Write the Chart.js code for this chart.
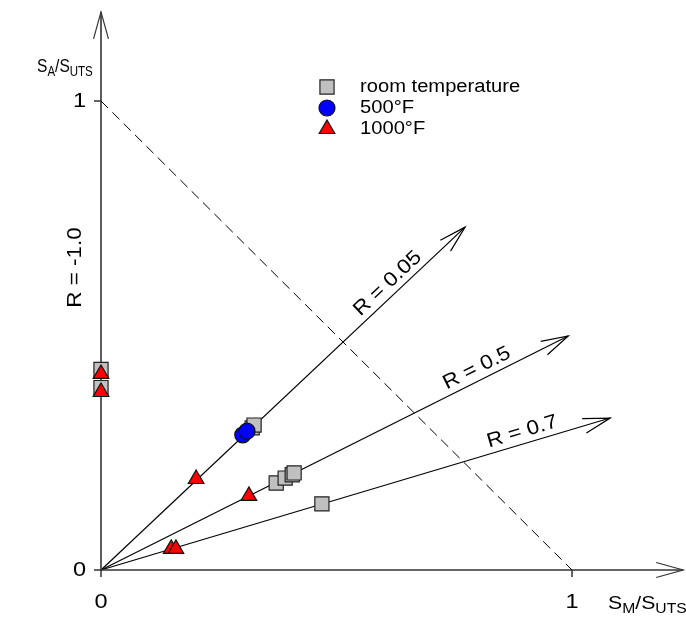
<!DOCTYPE html>
<html>
<head>
<meta charset="utf-8">
<script src="https://cdn.jsdelivr.net/npm/chart.js@4.4.1/dist/chart.umd.min.js"></script>
<style>
  html, body { margin: 0; padding: 0; background: #fff; }
  #wrap { width: 686px; height: 619px; }
</style>
</head>
<body>
<div id="wrap"><canvas id="chart" width="686" height="619"></canvas></div>
<script>
// rays (endpoint of each loading-ratio line)
const rayLabels = ['R = 0.05', 'R = 0.5', 'R = 0.7'];
const rayEndX = [0.773, 0.992, 1.081];
const rayEndY = [0.731, 0.499, 0.324];

// series
const roomX = [0, 0, 0.321, 0.325, 0.372, 0.391, 0.406, 0.410, 0.469];
const roomY = [0.4275, 0.389, 0.303, 0.309, 0.1855, 0.196, 0.203, 0.207, 0.141];
const f500X = [0.301, 0.310];
const f500Y = [0.288, 0.296];
const f1000X = [0, 0, 0.202, 0.314, 0.149, 0.159];
const f1000Y = [0.418, 0.3795, 0.194, 0.158, 0.045, 0.045];

// axis / tick labels
const xTicks = [0, 1];
const yTicks = [0, 1];
const axisEndX = 1.236;
const axisEndY = 1.19;

const pts = (xs, ys) => xs.map((x, i) => ({ x: x, y: ys[i] }));
const FONT = "'Liberation Sans', Arial, sans-serif";
const STRETCH = 1.12;

function drawText(ctx, str, x, y, size, angle, align) {
    ctx.save();
    ctx.translate(x, y);
    ctx.rotate(angle || 0);
    ctx.scale(STRETCH, 1);
    ctx.font = size + 'px ' + FONT;
    ctx.textAlign = align || 'center';
    ctx.textBaseline = 'middle';
    ctx.fillStyle = '#000';
    ctx.fillText(str, 0, 0);
    ctx.restore();
}

// text with subscripts: parts = [[text, isSub], ...]
function drawSubText(ctx, parts, x, y, size, subSize, stretch) {
    ctx.save();
    ctx.fillStyle = '#000';
    ctx.textBaseline = 'alphabetic';
    ctx.textAlign = 'left';
    let cx = x;
    parts.forEach(([t, sub]) => {
        const s = sub ? subSize : size;
        ctx.font = s + 'px ' + FONT;
        ctx.save();
        ctx.translate(cx, sub ? y + 4 : y);
        ctx.scale(stretch, 1);
        ctx.fillText(t, 0, 0);
        ctx.restore();
        cx += ctx.measureText(t).width * stretch;
    });
    ctx.restore();
}

function arrowHead(ctx, x0, y0, x1, y1) {
    const a = Math.atan2(y1 - y0, x1 - x0);
    const len = 28, spread = 0.27;
    ctx.beginPath();
    ctx.moveTo(x1 - len * Math.cos(a - spread), y1 - len * Math.sin(a - spread));
    ctx.lineTo(x1, y1);
    ctx.lineTo(x1 - len * Math.cos(a + spread), y1 - len * Math.sin(a + spread));
    ctx.stroke();
}

const decor = {
    id: 'decor',
    afterDatasetsDraw(chart) {
        const ctx = chart.ctx;
        const xs = chart.scales.x, ys = chart.scales.y;
        const ox = xs.getPixelForValue(0), oy = ys.getPixelForValue(0);

        ctx.save();
        ctx.lineWidth = 1.2;
        ctx.strokeStyle = '#000';
        // ray arrowheads + labels
        const labelT = [0.81, 0.816, 0.834];
        rayEndX.forEach((ex, i) => {
            const px = xs.getPixelForValue(ex), py = ys.getPixelForValue(rayEndY[i]);
            arrowHead(ctx, ox, oy, px, py);
            const a = Math.atan2(py - oy, px - ox);
            const t = labelT[i];
            const lx = ox + (px - ox) * t + 12 * Math.sin(a);
            const ly = oy + (py - oy) * t - 12 * Math.cos(a);
            drawText(ctx, rayLabels[i], lx, ly, 20, a, 'center');
        });

        // axis arrowheads
        ctx.strokeStyle = '#333';
        arrowHead(ctx, ox, oy, ox, ys.getPixelForValue(axisEndY));
        arrowHead(ctx, ox, oy, xs.getPixelForValue(axisEndX), oy);

        // ticks
        ctx.lineWidth = 1.5;
        ctx.beginPath();
        yTicks.forEach(v => {
            const p = ys.getPixelForValue(v);
            ctx.moveTo(ox - 7, p); ctx.lineTo(ox, p);
        });
        xTicks.forEach(v => {
            const p = xs.getPixelForValue(v);
            ctx.moveTo(p, oy); ctx.lineTo(p, oy + 7);
        });
        ctx.stroke();

        yTicks.forEach(v => drawText(ctx, String(v), ox - 15, ys.getPixelForValue(v), 21, 0, 'right'));
        xTicks.forEach(v => drawText(ctx, String(v), xs.getPixelForValue(v), oy + 32, 21, 0, 'center'));

        // axis titles
        drawSubText(ctx, [['S', false], ['A', true], ['/S', false], ['UTS', true]], 37, 72, 19, 14, 0.82);
        drawSubText(ctx, [['S', false], ['M', true], ['/S', false], ['UTS', true]], 608, 609, 19, 14, STRETCH);
        drawText(ctx, 'R = -1.0', ox - 26, ys.getPixelForValue(0.645), 20, -Math.PI / 2, 'center');

        // legend
        const lx = 327, ly = [87, 108, 129];
        const legendSets = [chart.data.datasets[0], chart.data.datasets[1], chart.data.datasets[2]];
        legendSets.forEach((ds, i) => {
            ctx.save();
            ctx.fillStyle = ds.backgroundColor;
            ctx.strokeStyle = ds.borderColor;
            ctx.lineWidth = ds.borderWidth;
            Chart.helpers.drawPoint(ctx, { pointStyle: ds.pointStyle, radius: ds.pointRadius, borderWidth: ds.borderWidth, rotation: 0 }, lx, ly[i]);
            ctx.restore();
            drawText(ctx, ds.label, 360, ly[i], 18, 0, 'left');
        });
        ctx.restore();
    }
};

const lineStyle = { showLine: true, pointRadius: 0, borderColor: '#000', borderWidth: 1.2, fill: false, order: 10 };

const datasets = [
    { label: 'room temperature', data: pts(roomX, roomY), pointStyle: 'rect', pointRadius: 10,
      backgroundColor: '#c0c0c0', borderColor: '#222', borderWidth: 1.2, order: 3 },
    { label: '500°F', data: pts(f500X, f500Y), pointStyle: 'circle', pointRadius: 8,
      backgroundColor: '#0000ff', borderColor: '#111', borderWidth: 1.2, order: 2 },
    { label: '1000°F', data: pts(f1000X, f1000Y), pointStyle: 'triangle', pointRadius: 9,
      backgroundColor: '#ff0000', borderColor: '#111', borderWidth: 1.2, order: 1 },
    Object.assign({ label: 'dashed', data: [{ x: 0, y: 1 }, { x: 1, y: 0 }] }, lineStyle, { borderDash: [10, 6], borderWidth: 1 }),
    Object.assign({ label: 'yaxis', data: [{ x: 0, y: 0 }, { x: 0, y: axisEndY }] }, lineStyle, { borderColor: '#333', borderWidth: 1.6 }),
    Object.assign({ label: 'xaxis', data: [{ x: 0, y: 0 }, { x: axisEndX, y: 0 }] }, lineStyle, { borderColor: '#333', borderWidth: 1.6 })
];
rayEndX.forEach((ex, i) => {
    datasets.push(Object.assign({ label: rayLabels[i], data: [{ x: 0, y: 0 }, { x: ex, y: rayEndY[i] }] }, lineStyle));
});

new Chart(document.getElementById('chart').getContext('2d'), {
    type: 'scatter',
    data: { datasets: datasets },
    options: {
        responsive: false,
        animation: false,
        clip: false,
        layout: { padding: 0, autoPadding: false },
        scales: {
            x: { type: 'linear', display: false, min: -101 / 471, max: (686 - 101) / 471 },
            y: { type: 'linear', display: false, min: -(619 - 570) / 469, max: 570 / 469 }
        },
        plugins: { legend: { display: false }, tooltip: { enabled: false } }
    },
    plugins: [decor]
});
</script>
</body>
</html>
